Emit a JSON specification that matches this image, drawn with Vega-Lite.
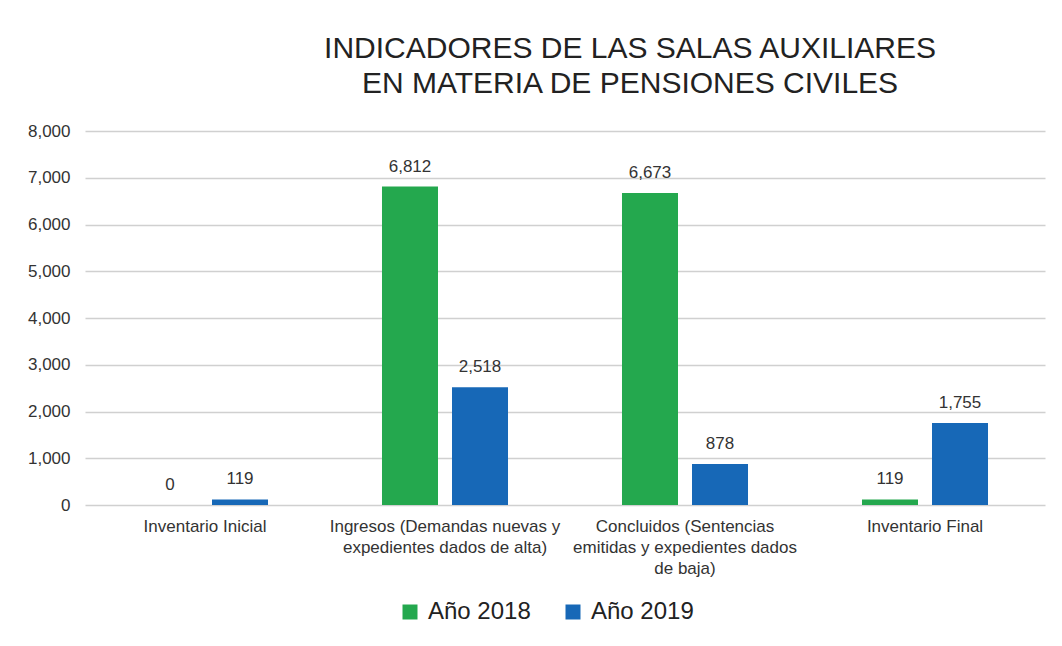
{
  "$schema": "https://vega.github.io/schema/vega-lite/v6.json",
  "width": 960,
  "height": 374,
  "autosize": {"type": "none"},
  "padding": {"left": 85, "top": 131, "right": 17, "bottom": 141},
  "background": "white",
  "title": {
    "text": ["INDICADORES DE LAS SALAS AUXILIARES", "EN MATERIA DE PENSIONES CIVILES"],
    "fontSize": 30,
    "font": "Liberation Sans",
    "fontWeight": "normal",
    "color": "#222222",
    "anchor": "middle",
    "dx": 65,
    "offset": 23,
    "lineHeight": 35
  },
  "data": {
    "values": [
      {"indicador": "Inventario Inicial", "serie": "Año 2018", "valor": 0},
      {"indicador": "Inventario Inicial", "serie": "Año 2019", "valor": 119},
      {"indicador": "Ingresos (Demandas nuevas y expedientes dados de alta)", "serie": "Año 2018", "valor": 6812},
      {"indicador": "Ingresos (Demandas nuevas y expedientes dados de alta)", "serie": "Año 2019", "valor": 2518},
      {"indicador": "Concluidos (Sentencias emitidas y expedientes dados de baja)", "serie": "Año 2018", "valor": 6673},
      {"indicador": "Concluidos (Sentencias emitidas y expedientes dados de baja)", "serie": "Año 2019", "valor": 878},
      {"indicador": "Inventario Final", "serie": "Año 2018", "valor": 119},
      {"indicador": "Inventario Final", "serie": "Año 2019", "valor": 1755}
    ]
  },
  "encoding": {
    "x": {
      "field": "indicador",
      "type": "nominal",
      "sort": null,
      "scale": {"paddingInner": 0, "paddingOuter": 0},
      "axis": {
        "title": null,
        "domain": false,
        "ticks": false,
        "labelAngle": 0,
        "labelFont": "Liberation Sans",
        "labelFontSize": 17,
        "labelColor": "#333333",
        "labelPadding": 13,
        "labelLineHeight": 21,
        "labelLimit": 300,
        "labelExpr": "datum.label == 'Ingresos (Demandas nuevas y expedientes dados de alta)' ? ['Ingresos (Demandas nuevas y', 'expedientes dados de alta)'] : datum.label == 'Concluidos (Sentencias emitidas y expedientes dados de baja)' ? ['Concluidos (Sentencias', 'emitidas y expedientes dados', 'de baja)'] : datum.label"
      }
    },
    "xOffset": {
      "field": "serie",
      "type": "nominal",
      "scale": {"paddingInner": 0.2, "paddingOuter": 0.814}
    },
    "y": {
      "field": "valor",
      "type": "quantitative",
      "scale": {"domain": [0, 8000]},
      "axis": {
        "title": null,
        "domain": false,
        "ticks": false,
        "values": [0, 1000, 2000, 3000, 4000, 5000, 6000, 7000, 8000],
        "format": ",.0f",
        "labelOverlap": false,
        "labelFont": "Liberation Sans",
        "labelFontSize": 17,
        "labelColor": "#333333",
        "labelPadding": 15,
        "gridColor": "#d0d0d0",
        "gridWidth": 1.5
      }
    }
  },
  "layer": [
    {
      "mark": {"type": "bar"},
      "encoding": {
        "color": {
          "field": "serie",
          "type": "nominal",
          "scale": {"domain": ["Año 2018", "Año 2019"], "range": ["#24A84E", "#1768B7"]},
          "legend": {
            "title": null,
            "orient": "none",
            "direction": "horizontal",
            "legendX": 313,
            "legendY": 469,
            "symbolType": "square",
            "symbolSize": 225,
            "symbolStrokeWidth": 0,
            "symbolOpacity": 1,
            "labelFont": "Liberation Sans",
            "labelFontSize": 24,
            "labelColor": "#222222",
            "labelOffset": 6,
            "columnPadding": 30,
            "labelLimit": 200
          }
        }
      }
    },
    {
      "mark": {
        "type": "text",
        "baseline": "bottom",
        "dy": -11,
        "font": "Liberation Sans",
        "fontSize": 17,
        "color": "#333333"
      },
      "encoding": {
        "text": {"field": "valor", "type": "quantitative", "format": ","}
      }
    }
  ],
  "config": {
    "view": {"stroke": null}
  }
}
